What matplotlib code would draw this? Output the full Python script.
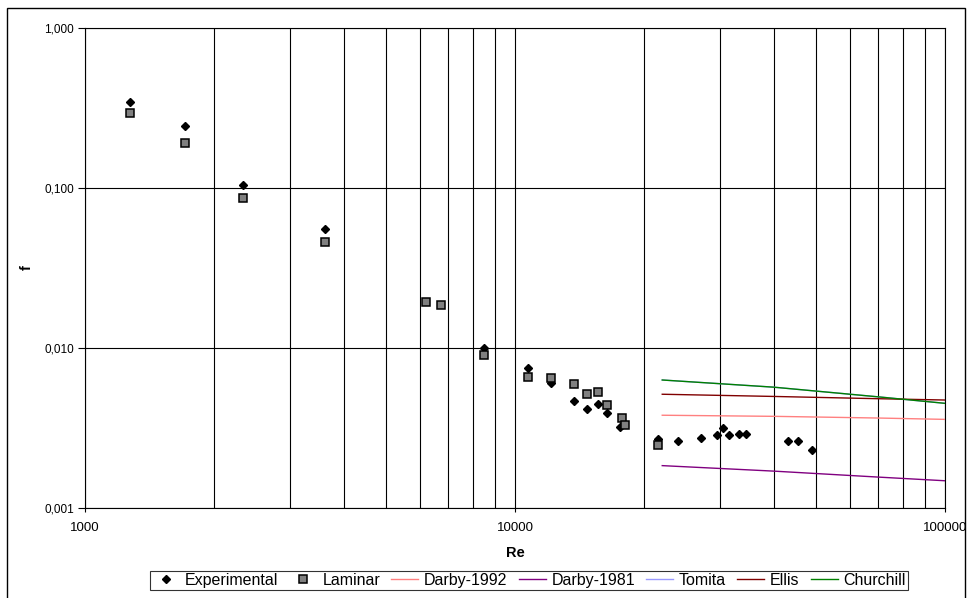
import numpy as np
import matplotlib
matplotlib.use("Agg")
import matplotlib.pyplot as plt
from matplotlib.ticker import FixedLocator, FuncFormatter, NullFormatter
from matplotlib.patches import Rectangle

plt.rcParams['font.family'] = ['Liberation Sans', 'DejaVu Sans']

# Measured friction factor
exp_re = [1273, 1711, 2330, 3610, 8485, 10720, 12125, 13740, 14680, 15600, 16400,
          17580, 21450, 23880, 27080, 29500, 30510, 31450, 33240, 34510, 43140,
          45440, 49140]
exp_f = [0.343, 0.245, 0.104, 0.0557, 0.00996, 0.00753, 0.00604, 0.00466, 0.00417,
         0.00449, 0.00391, 0.00322, 0.00269, 0.00263, 0.00273, 0.00285, 0.00318,
         0.00287, 0.00289, 0.00291, 0.00263, 0.00261, 0.00231]

# Laminar prediction
lam_re = [1273, 1711, 2330, 3610, 6220, 6716, 8485, 10720, 12125, 13740, 14680,
          15600, 16400, 17740, 18050, 21450]
lam_f = [0.293, 0.190, 0.0862, 0.0458, 0.0193, 0.01857, 0.00904, 0.00659, 0.00647,
         0.00593, 0.00518, 0.00528, 0.00440, 0.00367, 0.00330, 0.00246]

# Turbulent correlations
corr_re = [22000, 40000, 70000, 100000]
darby1992_f = [0.00380, 0.00374, 0.00365, 0.00358]
darby1981_f = [0.00184, 0.00170, 0.00156, 0.00148]
tomita_f = [0.00631, 0.00569, 0.00495, 0.00451]
ellis_f = [0.00514, 0.00498, 0.00482, 0.00473]
churchill_f = [0.00631, 0.00569, 0.00495, 0.00451]

W, H = 967, 598
fig = plt.figure(figsize=(W / 100, H / 100), dpi=100)
ax = fig.add_axes([85 / W, 1 - 508 / H, 860 / W, 480 / H])

# Chart-area border
fig.patches.append(Rectangle((7 / W, -0.01), 958 / W, 1 - 8 / H + 0.01,
                             transform=fig.transFigure, fill=False,
                             edgecolor='black', linewidth=1.0))

ax.set_xscale('log')
ax.set_yscale('log')
ax.set_xlim(1000, 100000)
ax.set_ylim(0.001, 1.0)

ax.plot(exp_re, exp_f, linestyle='none', marker='D', markersize=4.5,
        color='black', label='Experimental', zorder=3)
ax.plot(lam_re, lam_f, linestyle='none', marker='s', markersize=6.3,
        markerfacecolor='#808080', markeredgecolor='black', markeredgewidth=1.1,
        label='Laminar', zorder=4)
ax.plot(corr_re, darby1992_f, color='#FF8080', lw=1.0, label='Darby-1992', zorder=3)
ax.plot(corr_re, darby1981_f, color='#800080', lw=1.0, label='Darby-1981', zorder=3)
ax.plot(corr_re, tomita_f, color='#9999FF', lw=1.0, label='Tomita', zorder=3)
ax.plot(corr_re, ellis_f, color='#800000', lw=1.0, label='Ellis', zorder=3)
ax.plot(corr_re, churchill_f, color='#008000', lw=1.0, label='Churchill', zorder=3)

# Grid: all decades on x (including intermediates), majors only on y
xgrid = [m * 10 ** e for e in (3, 4) for m in range(1, 10)] + [100000]
for xv in xgrid:
    ax.axvline(xv, color='black', lw=0.8, zorder=1)
for yv in [0.001, 0.01, 0.1, 1.0]:
    ax.axhline(yv, color='black', lw=0.8, zorder=1)

ax.xaxis.set_major_locator(FixedLocator([1000, 10000, 100000]))
ax.xaxis.set_minor_locator(FixedLocator([]))
ax.xaxis.set_major_formatter(FuncFormatter(lambda v, p: f"{int(round(v))}"))
ax.xaxis.set_minor_formatter(NullFormatter())
ax.yaxis.set_major_locator(FixedLocator([0.001, 0.01, 0.1, 1.0]))
ax.yaxis.set_minor_locator(FixedLocator([]))
ax.yaxis.set_major_formatter(FuncFormatter(lambda v, p: f"{v:.3f}".replace('.', ',')))
ax.yaxis.set_minor_formatter(NullFormatter())
ax.tick_params(axis='x', which='major', direction='out', length=3, width=0.8,
               labelsize=9.5, colors='black', pad=7)
ax.tick_params(axis='y', which='major', direction='out', length=5, width=0.8,
               labelsize=8.5, colors='black', pad=3)

for s in ax.spines.values():
    s.set_linewidth(0.8)
    s.set_color('black')

ax.set_xlabel('Re', fontsize=10.5, fontweight='bold')
ax.xaxis.set_label_coords(0.5, (508 - 546) / 480)
ax.set_ylabel('f', fontsize=10.5, fontweight='bold')
ax.yaxis.set_label_coords((34 - 85) / 860, 0.5)

leg = fig.legend(loc='center', bbox_to_anchor=(529 / W, 1 - 580.5 / H), ncol=7,
                 fontsize=11.5, frameon=True, fancybox=False, edgecolor='black',
                 handlelength=1.7, handletextpad=0.35, columnspacing=0.7,
                 borderpad=0.12, borderaxespad=0)
leg.get_frame().set_linewidth(0.8)

fig.savefig('out.png', dpi=100)
